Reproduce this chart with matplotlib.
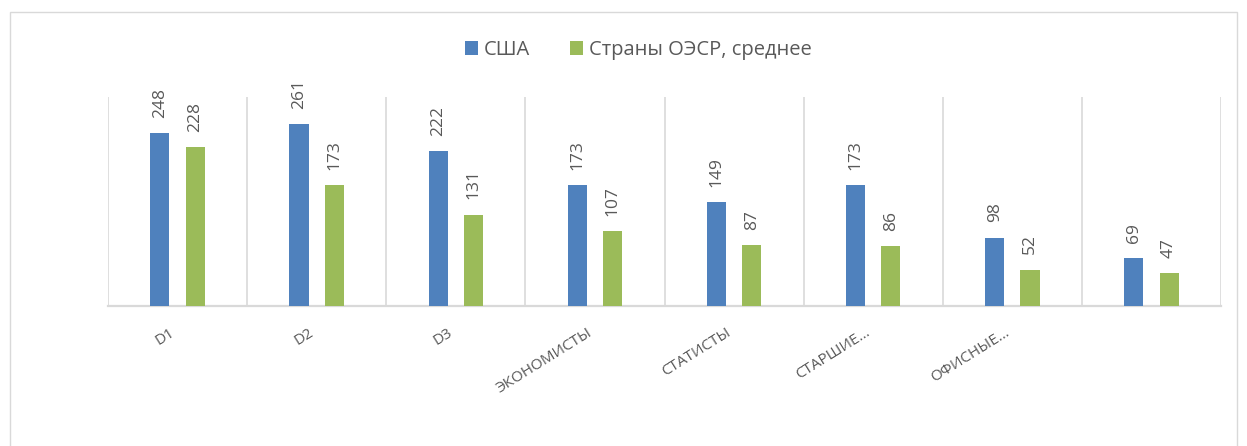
import numpy as np
import matplotlib.pyplot as plt
from matplotlib.patches import Rectangle

plt.rcParams['font.family'] = ['Open Sans', 'DejaVu Sans']

# data
categories = ['D1', 'D2', 'D3', 'ЭКОНОМИСТЫ', 'СТАТИСТЫ', 'СТАРШИЕ…', 'ОФИСНЫЕ…', '']
usa = [248, 261, 222, 173, 149, 173, 98, 69]
oecd = [228, 173, 131, 107, 87, 86, 52, 47]
series_names = ['США', 'Страны ОЭСР, среднее']

BLUE = '#4F81BD'
GREEN = '#9BBB59'
GRAY_TXT = '#595959'
GRID = '#D9D9D9'

fig = plt.figure(figsize=(12.47, 4.46), dpi=100)
ax = fig.add_axes([108/1247, 1 - 306/446, (1221 - 108)/1247, (306 - 97)/446])

# outer chart border
fig.patches.append(Rectangle((10/1247, -0.05), (1237 - 10)/1247, 1.05 - 12/446,
                             transform=fig.transFigure, fill=False,
                             edgecolor=GRID, linewidth=1.0))

x = np.arange(len(categories))
w = 0.137
off = 0.127
b1 = ax.bar(x - off, usa, w, color=BLUE, label=series_names[0], zorder=3)
b2 = ax.bar(x + off, oecd, w, color=GREEN, label=series_names[1], zorder=3)

for bars, vals in [(b1, usa), (b2, oecd)]:
    for bar, v in zip(bars, vals):
        ax.annotate(str(v), (bar.get_x() + bar.get_width()/2, bar.get_height()),
                    xytext=(0, 11), textcoords='offset points',
                    rotation=90, ha='center', va='bottom',
                    fontsize=12.5, color=GRAY_TXT)

# vertical category separators
for xv in np.arange(-0.5, len(categories), 1.0):
    ax.axvline(xv, color=GRID, linewidth=1.2, zorder=1)

ax.set_xlim(-0.5, len(categories) - 0.5)
ax.set_ylim(0, 300)
ax.set_yticks([])
for s in ['top', 'left', 'right']:
    ax.spines[s].set_visible(False)
ax.spines['bottom'].set_color(GRID)
ax.spines['bottom'].set_linewidth(1.6)

ax.set_xticks(x - 0.06)
ax.set_xticklabels(categories, rotation=32, ha='right', rotation_mode='anchor',
                   fontsize=11, color=GRAY_TXT)
ax.tick_params(axis='x', length=0, pad=14)

fig.legend(loc='center', bbox_to_anchor=(0.512, 1 - 50/446), ncol=2,
           frameon=False, fontsize=14.5, handlelength=0.65, handleheight=0.65,
           handletextpad=0.3, columnspacing=2.0, labelcolor=GRAY_TXT)

fig.savefig('out.png', dpi=100)
